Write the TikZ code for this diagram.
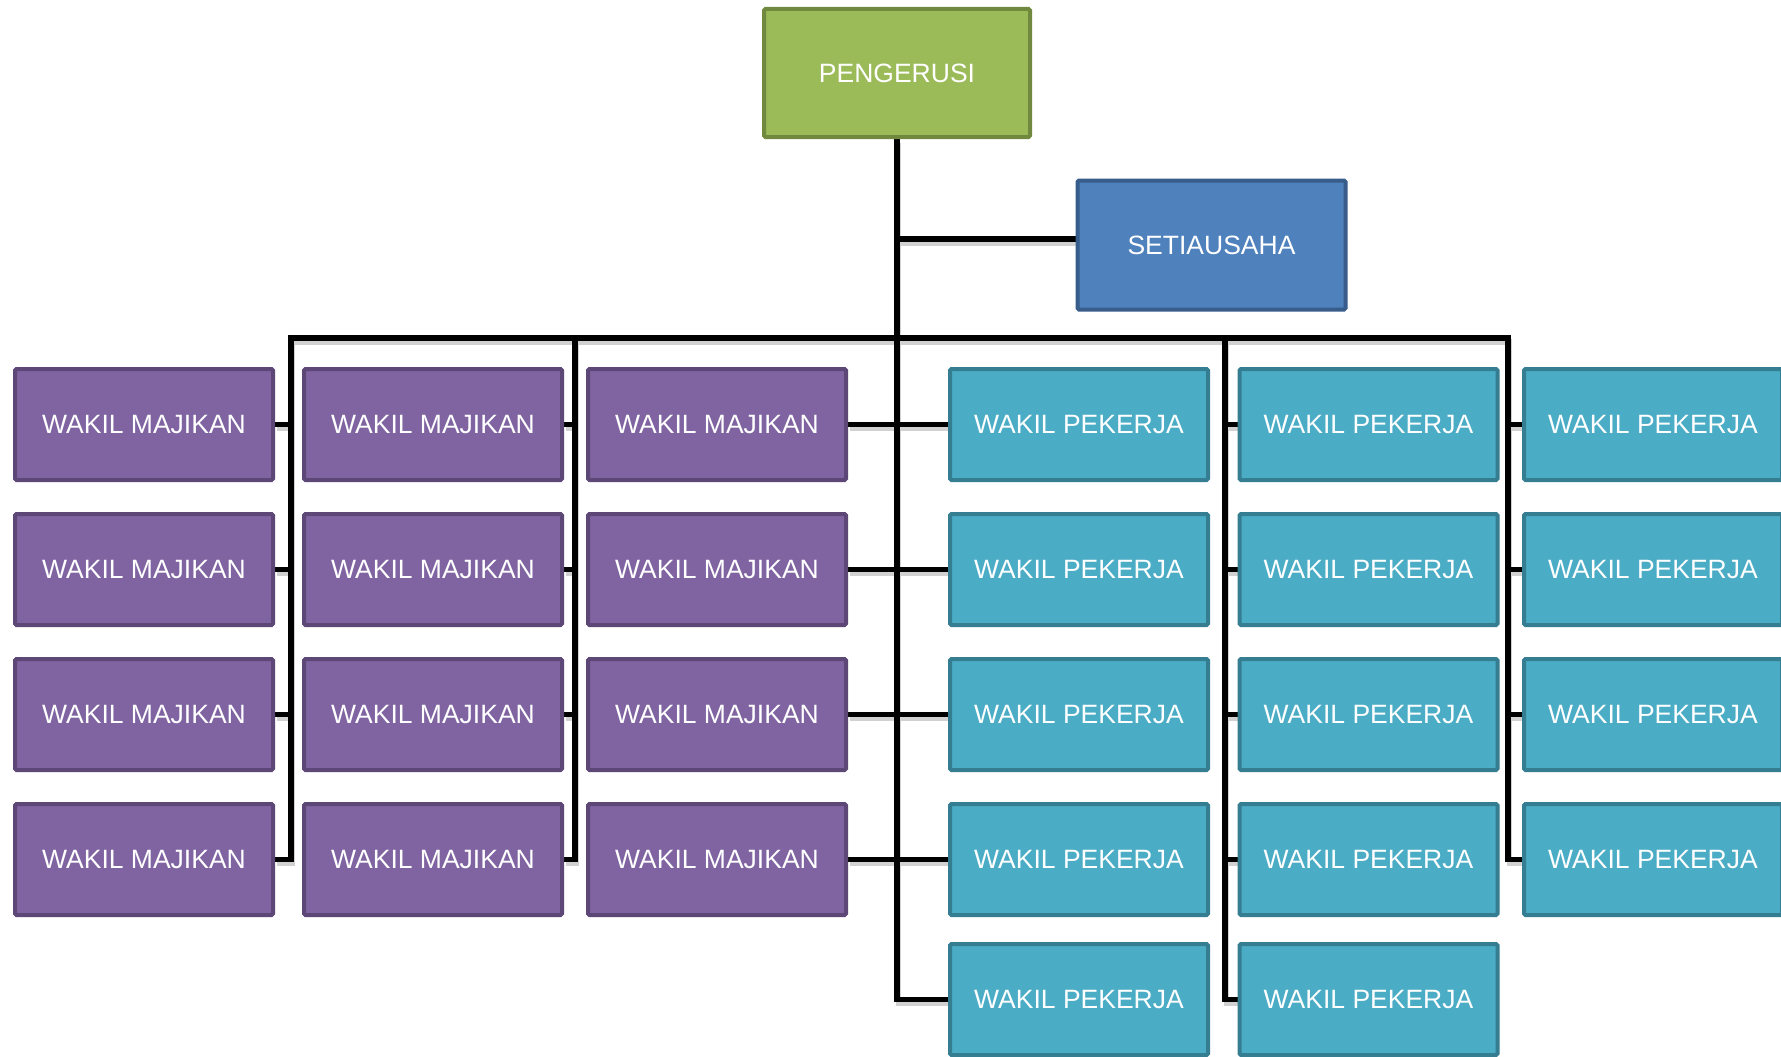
\documentclass[tikz,border=0pt]{standalone}
\usepackage{fontspec}
\setmainfont{Liberation Sans}
\usetikzlibrary{backgrounds}
\definecolor{grnF}{HTML}{9BBB59}\definecolor{grnD}{HTML}{71893F}
\definecolor{bluF}{HTML}{4F81BD}\definecolor{bluD}{HTML}{385D8A}
\definecolor{purF}{HTML}{8064A2}\definecolor{purD}{HTML}{5C4776}
\definecolor{cyaF}{HTML}{4BACC6}\definecolor{cyaD}{HTML}{357D91}
\newcommand\myconnpaths[1]{%
  % trunk from PENGERUSI down to last WAKIL PEKERJA of first column
  \draw[#1] (ch.south) -- (ch.south |- w-1-5.west) -- (w-1-5.west);
  % SETIAUSAHA
  \draw[#1] (ch.south |- secin) -- (secin);
  % bus with left and right ends
  \draw[#1] (m-1-4.east) -- (m-1-4.east -| L1) -- (L1) -- (R2) -- (R2 |- w-3-4.west) -- (w-3-4.west);
  \foreach \r in {1,2,3} {\draw[#1] (m-1-\r.east) -- (m-1-\r.east -| L1);}
  % second majikan line
  \draw[#1] (L2) -- (L2 |- m-2-4.east) -- (m-2-4.east);
  \foreach \r in {1,2,3} {\draw[#1] (m-2-\r.east) -- (m-2-\r.east -| L2);}
  % third majikan column and first pekerja column across the trunk
  \foreach \r in {1,2,3,4} {\draw[#1] (m-3-\r.east) -- (w-1-\r.west);}
  % second pekerja line
  \draw[#1] (R1) -- (R1 |- w-2-5.west) -- (w-2-5.west);
  \foreach \r in {1,2,3,4} {\draw[#1] (R1 |- w-2-\r.west) -- (w-2-\r.west);}
  % third pekerja line stubs
  \foreach \r in {1,2,3} {\draw[#1] (R2 |- w-3-\r.west) -- (w-3-\r.west);}
}
\begin{document}
\begin{tikzpicture}[x=1pt,y=-1pt,
  box/.style={draw, line width=4pt, rounded corners=1.5pt, minimum width=258pt,
    minimum height=111pt, text=white, font=\fontsize{26.5}{30}\selectfont, inner sep=0pt},
  chair/.style={box, fill=grnF, draw=grnD, minimum width=266pt, minimum height=128pt},
  sec/.style={box, fill=bluF, draw=bluD, minimum width=268pt, minimum height=129pt},
  emp/.style={box, fill=purF, draw=purD},
  wrk/.style={box, fill=cyaF, draw=cyaD},
  conn/.style={line width=5.5pt, draw=black},
  shadowline/.style={line width=5.5pt, draw=black!18, transform canvas={shift={(1.5pt,-4pt)}}}
]
\clip (0,0) rectangle (1781,1057);

\node[chair] (ch) at (897,73) {PENGERUSI};
\node[sec] (se) at (1211.5,245) {SETIAUSAHA};
\coordinate (secin) at ([yshift=6pt]se.west);

\foreach \c/\x in {1/144,2/433,3/717} {
  \foreach \r/\y in {1/424.5,2/569.5,3/714.5,4/859.5} {
    \node[emp] (m-\c-\r) at (\x,\y) {WAKIL MAJIKAN};
  }
}
\foreach \c/\x in {1/1079,2/1368.5} {
  \foreach \r/\y in {1/424.5,2/569.5,3/714.5,4/859.5,5/999.5} {
    \node[wrk] (w-\c-\r) at (\x,\y) {WAKIL PEKERJA};
  }
}
\foreach \r/\y in {1/424.5,2/569.5,3/714.5,4/859.5} {
  \node[wrk] (w-3-\r) at (1653,\y) {WAKIL PEKERJA};
}

\coordinate (L1) at (291,338);
\coordinate (L2) at (575,338);
\coordinate (R1) at (1225,338);
\coordinate (R2) at (1508,338);

\begin{scope}[on background layer]
  \fill[white] (0,0) rectangle (1781,1057);
  \myconnpaths{shadowline}
  \myconnpaths{conn}
\end{scope}
\end{tikzpicture}
\end{document}
